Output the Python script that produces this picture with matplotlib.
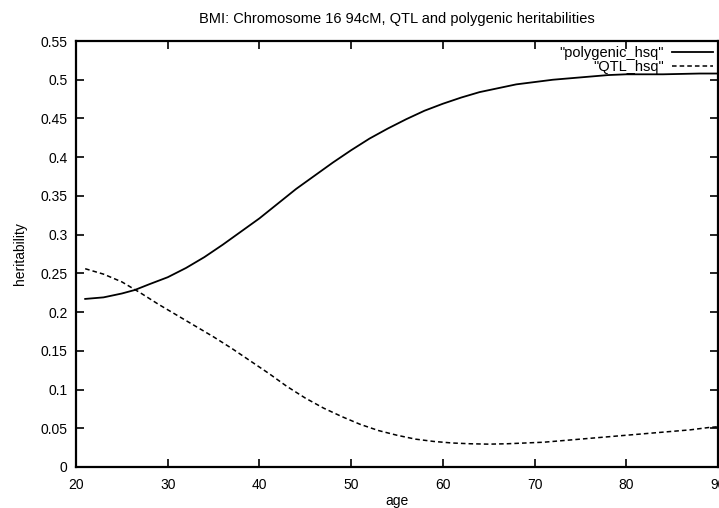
import numpy as np
import matplotlib
matplotlib.use("Agg")
import matplotlib.pyplot as plt

plt.rcParams['font.family'] = ['Liberation Sans', 'DejaVu Sans']

# values
age_poly = [21, 23, 25, 26.4, 28, 30, 32, 34, 36, 38, 40, 42, 44, 46, 48, 50,
            52, 54, 56, 58, 60, 62, 64, 66, 68, 70, 72, 74, 76, 78, 80, 84, 88, 90]
polygenic_hsq = [0.217, 0.219, 0.224, 0.2285, 0.236, 0.245, 0.257, 0.271, 0.287,
                 0.304, 0.321, 0.340, 0.359, 0.376, 0.393, 0.409, 0.424, 0.437,
                 0.449, 0.460, 0.469, 0.477, 0.484, 0.489, 0.494, 0.497, 0.500,
                 0.502, 0.504, 0.506, 0.507, 0.507, 0.508, 0.508]

age_qtl = [21, 23, 25, 27, 29, 31, 33, 35, 37, 39, 41, 43, 45, 47, 49, 51, 53,
           55, 57, 59, 61, 63, 65, 67, 69, 71, 73, 75, 77, 79, 81, 83, 85, 87,
           89, 90]
qtl_hsq = [0.256, 0.249, 0.239, 0.225, 0.210, 0.196, 0.182, 0.168, 0.153, 0.137,
           0.121, 0.104, 0.089, 0.076, 0.065, 0.055, 0.047, 0.041, 0.036, 0.033,
           0.031, 0.030, 0.0295, 0.030, 0.031, 0.032, 0.034, 0.036, 0.038, 0.040,
           0.042, 0.044, 0.046, 0.048, 0.051, 0.052]

xticks = [20, 30, 40, 50, 60, 70, 80, 90]
yticks = [0, 0.05, 0.1, 0.15, 0.2, 0.25, 0.3, 0.35, 0.4, 0.45, 0.5, 0.55]
ytick_labels = ['0', '0.05', '0.1', '0.15', '0.2', '0.25', '0.3', '0.35',
                '0.4', '0.45', '0.5', '0.55']

fig = plt.figure(figsize=(7.19, 5.08), dpi=100)
ax = fig.add_axes([76 / 719, 1 - 467 / 508, 642 / 719, 426 / 508])

ax.plot(age_poly, polygenic_hsq, color='black', lw=1.3, label='"polygenic_hsq"')
ax.plot(age_qtl, qtl_hsq, color='black', lw=1.1, dashes=(3, 2), label='"QTL_hsq"')

ax.set_xlim(20, 90)
ax.set_ylim(0, 0.55)
ax.set_xticks(xticks)
ax.set_yticks(yticks)
ax.set_yticklabels(ytick_labels)
ax.tick_params(direction='in', length=6, width=1.2, top=True, right=True,
               labelsize=10)
ax.tick_params(axis='y', pad=6)
ax.tick_params(axis='x', pad=8)
for s in ax.spines.values():
    s.set_linewidth(1.6)

ax.set_xlabel('age', fontsize=10, labelpad=1)
ax.set_ylabel('heritability', fontsize=10, labelpad=10)
ax.set_title('BMI: Chromosome 16 94cM, QTL and polygenic heritabilities',
             fontsize=10.5, pad=13)

ax.legend(loc='upper right', frameon=False, markerfirst=False, fontsize=10.5,
          handlelength=2.8, handletextpad=0.55, labelspacing=0.0,
          borderaxespad=0.15, borderpad=0.2, alignment='right')

fig.savefig('out.png', dpi=100)
